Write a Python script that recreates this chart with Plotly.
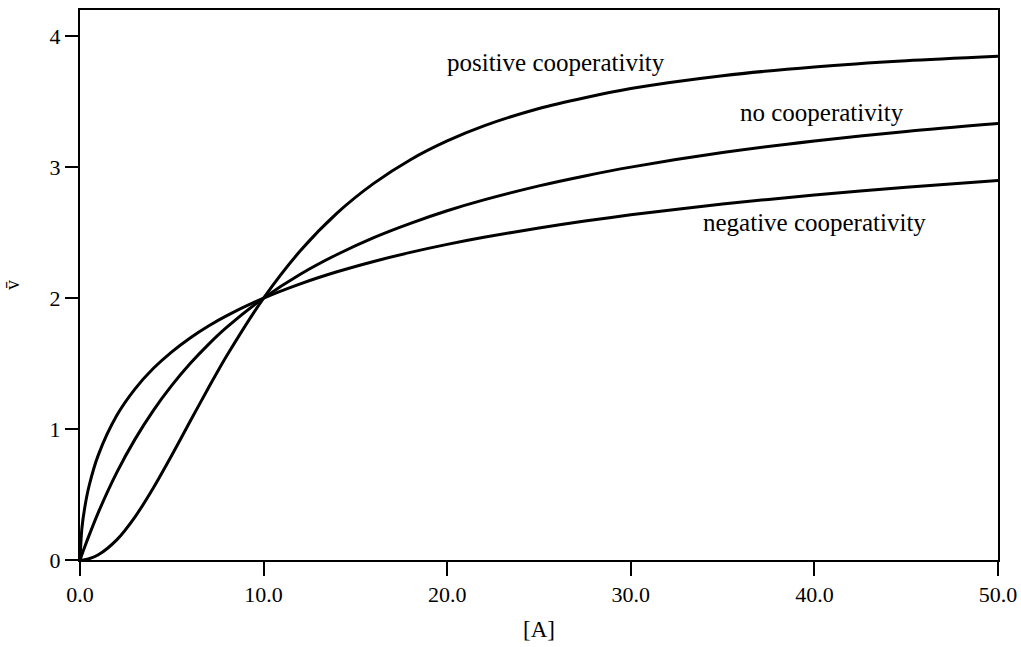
import plotly.graph_objects as go

# Concentration of ligand [A]
conc = [0, 0.1, 0.25, 0.5, 1, 2, 3, 4, 5, 6, 7, 8, 10, 12, 14, 16, 18, 20, 22, 25, 27.5, 30, 35, 40, 45, 50]

# Fractional saturation values
positive = [0, 0.0004, 0.0025, 0.010, 0.040, 0.154, 0.330, 0.552, 0.800, 1.059, 1.315, 1.561, 2.000,
            2.361, 2.649, 2.876, 3.057, 3.200, 3.315, 3.448, 3.530, 3.600, 3.698, 3.765, 3.812, 3.846]
none_coop = [0, 0.040, 0.098, 0.190, 0.364, 0.667, 0.923, 1.143, 1.333, 1.500, 1.647, 1.778, 2.000,
             2.182, 2.333, 2.462, 2.571, 2.667, 2.750, 2.857, 2.933, 3.000, 3.111, 3.200, 3.273, 3.333]
negative = [0, 0.237, 0.394, 0.569, 0.803, 1.103, 1.307, 1.464, 1.590, 1.696, 1.787, 1.866, 2.000,
            2.109, 2.201, 2.280, 2.349, 2.410, 2.464, 2.536, 2.588, 2.636, 2.718, 2.787, 2.846, 2.898]

labels = ["positive cooperativity", "no cooperativity", "negative cooperativity"]
label_pos = [(25.9, 3.80), (40.4, 3.42), (40.0, 2.58)]

x_ticks = [0, 10, 20, 30, 40, 50]
x_tick_text = ["0.0", "10.0", "20.0", "30.0", "40.0", "50.0"]
y_ticks = [0, 1, 2, 3, 4]

FONT = "Liberation Serif"

fig = go.Figure()
for ys in (positive, none_coop, negative):
    fig.add_trace(go.Scatter(x=conc, y=ys, mode="lines",
                             line=dict(color="black", width=3, shape="spline", smoothing=0.8),
                             showlegend=False, hoverinfo="skip"))

for text, (lx, ly) in zip(labels, label_pos):
    fig.add_annotation(x=lx, y=ly, text=text, showarrow=False,
                       font=dict(family=FONT, size=25, color="black"))

fig.add_annotation(xref="paper", yref="paper", x=-0.074, y=0.5, text="v\u0304",
                   textangle=-90, showarrow=False, xanchor="center", yanchor="middle",
                   font=dict(family=FONT, size=20, color="black"))

fig.update_layout(
    width=1021, height=647,
    margin=dict(l=80, r=23, t=10, b=87, autoexpand=False),
    paper_bgcolor="white", plot_bgcolor="white",
    font=dict(family=FONT, color="black"),
    xaxis=dict(range=[0, 50], tickvals=x_ticks, ticktext=x_tick_text, automargin=False,
               showgrid=False, zeroline=False, showline=True, linecolor="black",
               linewidth=2, mirror=True, ticks="outside", ticklen=14, tickwidth=2,
               tickcolor="black", tickfont=dict(family=FONT, size=22, color="black"),
               title=dict(text="[A]", font=dict(family=FONT, size=23, color="black"),
                          standoff=14)),
    yaxis=dict(range=[0, 4.2], tickvals=y_ticks, automargin=False,
               showgrid=False, zeroline=False, showline=True, linecolor="black",
               linewidth=2, mirror=True, ticks="outside", ticklen=13, tickwidth=2,
               tickcolor="black", tickfont=dict(family=FONT, size=22, color="black")),
)

fig.write_html("out.html", config={"displayModeBar": False},
               post_script="document.body.style.margin='0';")
